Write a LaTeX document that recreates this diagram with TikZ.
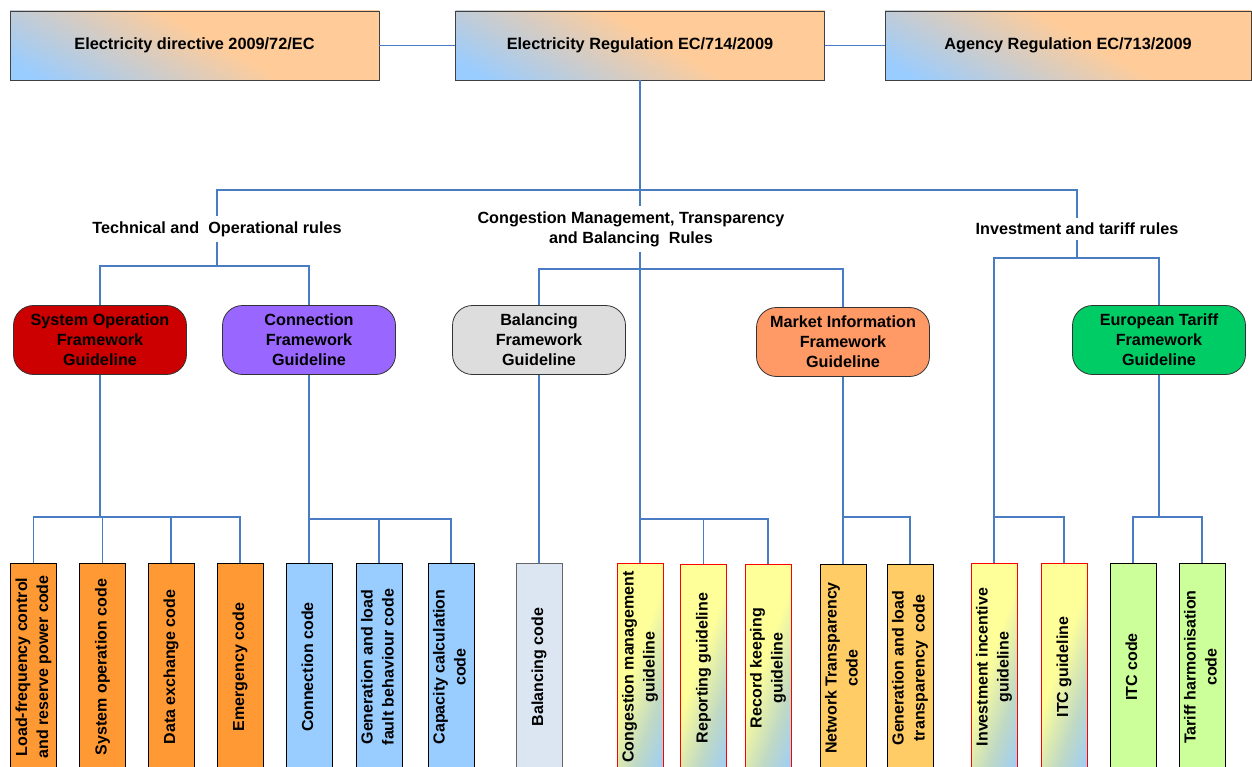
\documentclass[tikz,border=0pt]{standalone}
\usepackage{fontspec}
\setmainfont{Liberation Sans}

\definecolor{linkblue}{HTML}{4A7CC4}
\definecolor{peach}{HTML}{FFCC99}
\definecolor{skyblue}{HTML}{99CCFF}
\definecolor{lemon}{HTML}{FFFF99}
\definecolor{sored}{HTML}{CC0000}
\definecolor{connviolet}{HTML}{9966FF}
\definecolor{balgray}{HTML}{DDDDDD}
\definecolor{mktorange}{HTML}{FF9966}
\definecolor{tarifgreen}{HTML}{00CC66}
\definecolor{codeorange}{HTML}{FF9933}
\definecolor{balcode}{HTML}{DCE6F2}
\definecolor{transcode}{HTML}{FFCC66}
\definecolor{tarcode}{HTML}{CCFF99}

\pgfdeclarehorizontalshading{toplight}{100bp}{color(0bp)=(skyblue); color(20bp)=(skyblue); color(37bp)=(black!20); color(54bp)=(peach); color(100bp)=(peach)}
\pgfdeclarehorizontalshading{yelblue}{100bp}{color(0bp)=(lemon); color(46bp)=(lemon); color(66bp)=(black!10!lemon!50!skyblue); color(84bp)=(skyblue); color(100bp)=(skyblue)}

\newcommand{\uptext}[1]{\rotatebox{90}{\begin{tabular}{@{}c@{}}#1\end{tabular}}}

\begin{document}
\begin{tikzpicture}[x=1pt, y=-1pt,
	link/.style={draw=linkblue, line width=1.8pt},
	topbox/.style={draw=black!75, line width=0.8pt, shading=toplight, shading angle=60,
		minimum width=369, minimum height=69, font=\fontsize{16.3}{19}\selectfont\bfseries},
	fwbox/.style={draw=black!80, line width=0.8pt, rounded corners=20pt, minimum width=173,
		minimum height=69, inner sep=2pt, align=center, font=\fontsize{16.2}{20}\selectfont\bfseries},
	codebox/.style={draw=black, line width=0.8pt, minimum width=46, minimum height=208,
		inner sep=0pt, font=\fontsize{16}{21}\selectfont\bfseries},
	guidebox/.style={codebox, draw=red, shading=yelblue, shading angle=-20},
	lbl/.style={align=center, inner sep=5pt, font=\fontsize{16.2}{20}\selectfont\bfseries}]
	\clip (0, 0) rectangle (1252, 767);

	% regulations
	\node[topbox] at (194.5, 45.5) (elecDir) {Electricity directive 2009/72/EC};
	\node[topbox] at (640, 45.5) (elecReg) {Electricity Regulation EC/714/2009};
	\node[topbox, minimum width=366] at (1068, 45.5) (agency) {Agency Regulation EC/713/2009};

	% rule groups
	\node[lbl] at (217, 229) (techLbl) {Technical and\ \ Operational rules};
	\node[lbl] at (631, 229) (congLbl) {Congestion Management, Transparency\\and Balancing\ \ Rules};
	\node[lbl] at (1077, 229) (invLbl) {Investment and tariff rules};

	% framework guidelines
	\node[fwbox, fill=sored] at (100, 340) (sysOp) {System Operation\\Framework\\Guideline};
	\node[fwbox, fill=connviolet] at (309, 340) (connFw) {Connection\\Framework\\Guideline};
	\node[fwbox, fill=balgray] at (539, 340) (balFw) {Balancing\\Framework\\Guideline};
	\node[fwbox, fill=mktorange] at (843, 342) (mktFw) {Market Information\\Framework\\Guideline};
	\node[fwbox, fill=tarifgreen] at (1159, 340) (tarFw) {European Tariff\\Framework\\Guideline};

	% codes
	\node[codebox, fill=codeorange] at (33.5, 667) (lfc) {\uptext{Load-frequency control\\and reserve power code}};
	\node[codebox, fill=codeorange] at (102.5, 667) (sysCode) {\uptext{System operation code}};
	\node[codebox, fill=codeorange] at (171, 667) (dataEx) {\uptext{Data exchange code}};
	\node[codebox, fill=codeorange] at (240, 667) (emerg) {\uptext{Emergency code}};
	\node[codebox, fill=skyblue] at (309, 667) (connCode) {\uptext{Connection code}};
	\node[codebox, fill=skyblue] at (379, 667) (genFault) {\uptext{Generation and load\\fault behaviour code}};
	\node[codebox, fill=skyblue] at (451, 667) (capCalc) {\uptext{Capacity calculation\\code}};
	\node[codebox, fill=balcode, draw=black!60] at (539, 667) (balCode) {\uptext{Balancing code}};
	\node[guidebox] at (640, 667) (congMgmt) {\uptext{Congestion management\\guideline}};
	\node[guidebox] at (703.5, 668) (report) {\uptext{Reporting guideline}};
	\node[guidebox] at (768, 668) (record) {\uptext{Record keeping\\guideline}};
	\node[codebox, fill=transcode] at (843, 668) (netTrans) {\uptext{Network Transparency\\code}};
	\node[codebox, fill=transcode] at (910, 668) (genTrans) {\uptext{Generation and load\\transparency\ \ code}};
	\node[guidebox] at (994, 667) (invGuide) {\uptext{Investment incentive\\guideline}};
	\node[guidebox] at (1064, 667) (itcGuide) {\uptext{ITC guideline}};
	\node[codebox, fill=tarcode] at (1133, 667) (itcCode) {\uptext{ITC code}};
	\node[codebox, fill=tarcode] at (1202, 667) (tarHarm) {\uptext{Tariff harmonisation\\code}};

	\coordinate (hub) at (640, 190);
	\coordinate (techBar) at (217, 266);
	\coordinate (congBar) at (640, 269);
	\coordinate (invBar) at (1077, 258);
	\coordinate (soBar) at (100, 517);
	\coordinate (connBar) at (309, 519);
	\coordinate (congSub) at (640, 519);
	\coordinate (mktBar) at (843, 517);
	\coordinate (invSub) at (994, 517);
	\coordinate (tarBar) at (1159, 517);

	\draw[link] (elecDir) -- (elecReg);
	\draw[link] (elecReg) -- (agency);
	\draw[link] (elecReg.south) -- (hub);
	\draw[link] (hub) -| (techLbl.north);
	\draw[link] (hub) -| (invLbl.north);
	\draw[link] (hub) -- (hub |- congLbl.north);

	\draw[link] (techLbl) -- (techBar);
	\draw[link] (techBar) -| (sysOp);
	\draw[link] (techBar) -| (connFw);

	\draw[link] (hub |- congLbl.south) -- (congMgmt);
	\draw[link] (congBar) -| (balFw);
	\draw[link] (congBar) -| (mktFw);

	\draw[link] (invLbl) -- (invBar);
	\draw[link] (invBar) -| (tarFw);
	\draw[link] (invBar) -| (invGuide);

	\draw[link] (sysOp) -- (soBar);
	\draw[link] (soBar) -| (lfc);
	\draw[link] (soBar) -| (sysCode);
	\draw[link] (soBar) -| (dataEx);
	\draw[link] (soBar) -| (emerg);

	\draw[link] (connFw) -- (connCode);
	\draw[link] (connBar) -| (genFault);
	\draw[link] (connBar) -| (capCalc);

	\draw[link] (balFw) -- (balCode);

	\draw[link] (congSub) -| (report);
	\draw[link] (congSub) -| (record);

	\draw[link] (mktFw) -- (netTrans);
	\draw[link] (mktBar) -| (genTrans);

	\draw[link] (invSub) -| (itcGuide);

	\draw[link] (tarFw) -- (tarBar);
	\draw[link] (tarBar) -| (itcCode);
	\draw[link] (tarBar) -| (tarHarm);
\end{tikzpicture}
\end{document}
